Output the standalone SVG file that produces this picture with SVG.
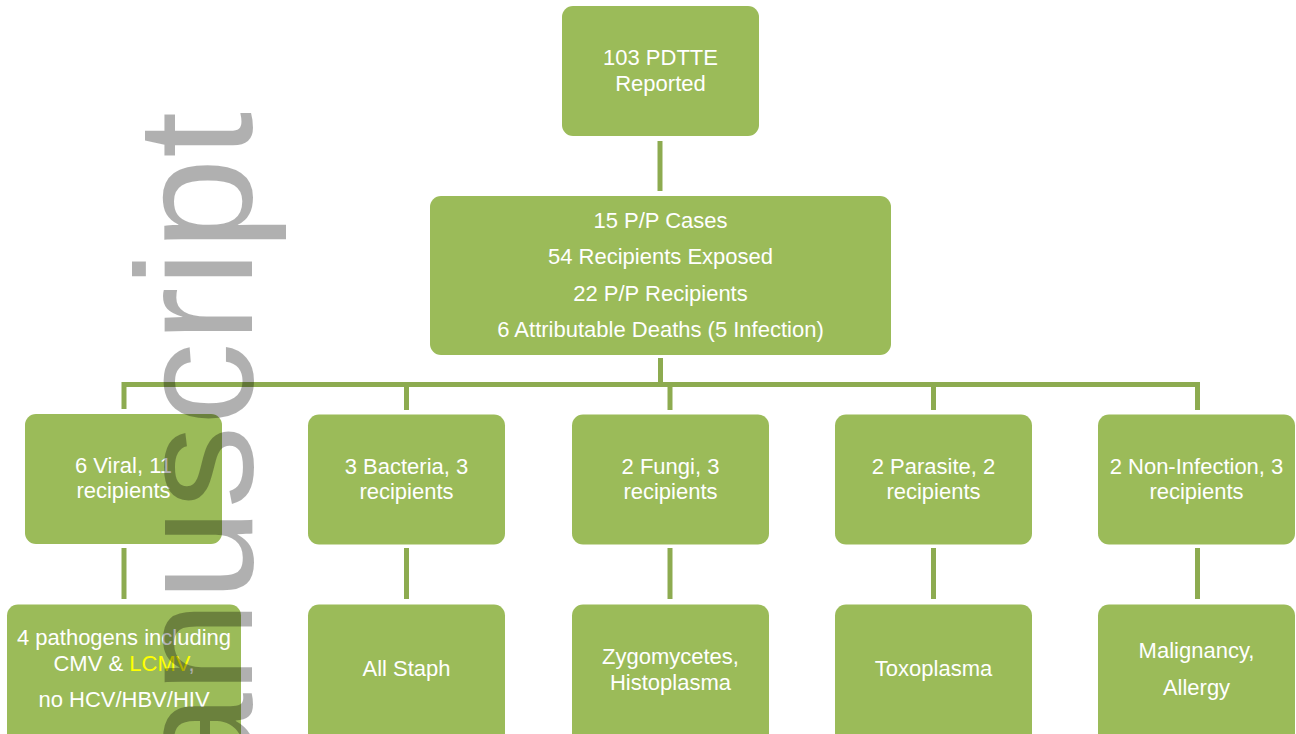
<svg xmlns="http://www.w3.org/2000/svg" width="1296" height="734" viewBox="0 0 1296 734">
<style>
.box{fill:#9BBB59;}
.t{font-family:"Liberation Sans",Arial,sans-serif;font-size:22px;fill:#FFFFFF;text-anchor:middle;}
.c{fill:none;stroke:#8DAB50;stroke-width:5;stroke-linecap:butt;stroke-linejoin:miter;}
.wm{font-family:"Liberation Sans",Arial,sans-serif;font-size:166px;fill:#000000;fill-opacity:0.31;text-anchor:end;}
</style>
<rect width="1296" height="734" fill="#FFFFFF"/>
<g id="connectors">
<path class="c" d="M660,141 V191"/>
<path class="c" d="M660.5,358 V385"/>
<path class="c" d="M124,409 V384.5 H1197.5 V410"/>
<path class="c" d="M406.5,384.5 V410"/>
<path class="c" d="M670,384.5 V410"/>
<path class="c" d="M933.5,384.5 V410"/>
<path class="c" d="M124,548 V599"/>
<path class="c" d="M406.5,548 V599"/>
<path class="c" d="M670,548 V599"/>
<path class="c" d="M933.5,548 V599"/>
<path class="c" d="M1197.5,548 V599"/>
</g>
<g id="root">
<rect class="box" x="562" y="6" width="197" height="130" rx="11"/>
<text class="t" x="660.5" y="65">103 PDTTE</text>
<text class="t" x="660.5" y="91">Reported</text>
</g>
<g id="summary">
<rect class="box" x="430" y="196" width="461" height="159" rx="11"/>
<text class="t" x="660.5" y="228">15 P/P Cases</text>
<text class="t" x="660.5" y="264">54 Recipients Exposed</text>
<text class="t" x="660.5" y="300.5">22 P/P Recipients</text>
<text class="t" x="660.5" y="336.5">6 Attributable Deaths (5 Infection)</text>
</g>
<g id="viral">
<rect class="box" x="25" y="414" width="197" height="130" rx="11"/>
<text class="t" x="123.5" y="472.5">6 Viral, 11</text>
<text class="t" x="123.5" y="498">recipients</text>
</g>
<g id="bacteria">
<rect class="box" x="308" y="414.5" width="197" height="130" rx="11"/>
<text class="t" x="406.5" y="473.5">3 Bacteria, 3</text>
<text class="t" x="406.5" y="499">recipients</text>
</g>
<g id="fungi">
<rect class="box" x="572" y="414.5" width="197" height="130" rx="11"/>
<text class="t" x="670.5" y="473.5">2 Fungi, 3</text>
<text class="t" x="670.5" y="499">recipients</text>
</g>
<g id="parasite">
<rect class="box" x="835" y="414.5" width="197" height="130" rx="11"/>
<text class="t" x="933.5" y="474">2 Parasite, 2</text>
<text class="t" x="933.5" y="499">recipients</text>
</g>
<g id="noninfection">
<rect class="box" x="1098" y="414.5" width="197" height="130" rx="11"/>
<text class="t" x="1196.5" y="474">2 Non-Infection, 3</text>
<text class="t" x="1196.5" y="499">recipients</text>
</g>
<g id="viral-detail">
<rect class="box" x="7" y="604.5" width="234" height="140" rx="11"/>
<text class="t" x="124" y="645">4 pathogens including</text>
<text class="t" x="124" y="671">CMV &amp; <tspan fill="#FFFF00">LCMV</tspan>,</text>
<text class="t" x="124" y="707">no HCV/HBV/HIV</text>
</g>
<g id="bacteria-detail">
<rect class="box" x="308" y="604.5" width="197" height="140" rx="11"/>
<text class="t" x="406.5" y="676">All Staph</text>
</g>
<g id="fungi-detail">
<rect class="box" x="572" y="604.5" width="197" height="140" rx="11"/>
<text class="t" x="670.5" y="663.5">Zygomycetes,</text>
<text class="t" x="670.5" y="689.5">Histoplasma</text>
</g>
<g id="parasite-detail">
<rect class="box" x="835" y="604.5" width="197" height="140" rx="11"/>
<text class="t" x="933.5" y="676">Toxoplasma</text>
</g>
<g id="noninfection-detail">
<rect class="box" x="1098" y="604.5" width="197" height="140" rx="11"/>
<text class="t" x="1196.5" y="658">Malignancy,</text>
<text class="t" x="1196.5" y="695">Allergy</text>
</g>
<g id="watermark">
<text class="wm" transform="translate(252,112) rotate(-90)" x="0" y="0">Manuscript</text>
</g>
</svg>
